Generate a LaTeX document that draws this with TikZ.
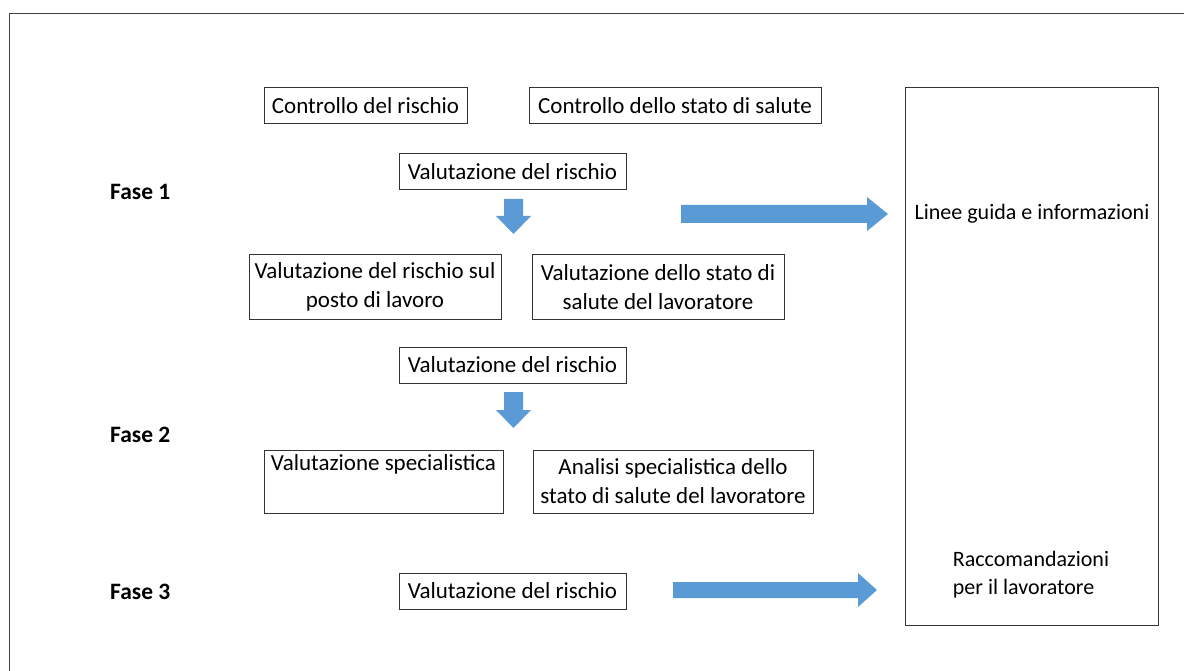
\documentclass[tikz,border=0pt]{standalone}
\usepackage{fontspec}
\setmainfont{Carlito}
\begin{document}
\begin{tikzpicture}[x=1pt,y=-1pt,
  box/.style={draw=black!80, line width=1pt, inner sep=0pt, align=center, font=\fontsize{23}{29}\selectfont},
  lbl/.style={inner sep=0pt, align=center, font=\fontsize{22}{28}\selectfont},
  fase/.style={inner sep=0pt, font=\bfseries\fontsize{23.5}{26}\selectfont},
  blockarrow/.style={fill=arrowblue, draw=none}]
\definecolor{arrowblue}{HTML}{5B9BD5}
\useasboundingbox (0,0) rectangle (1184,671);
\draw[black!75, line width=1.3pt] (9.5,671) -- (9.5,13.5) -- (1184,13.5);

% Row 1
\node[box, minimum width=203, minimum height=36] (cr) at (365.5,106) {Controllo del rischio};
\node[box, minimum width=292, minimum height=36] (cs) at (675,106) {Controllo dello stato di salute};
\node[box, minimum width=227, minimum height=36] (vr1) at (512.5,172) {Valutazione del rischio};

% Fase 1 second row
\node[box, minimum width=252, minimum height=64] (vpl) at (375,287) {Valutazione del rischio sul\\posto di lavoro};
\node[box, minimum width=252, minimum height=64] (vsl) at (658,287) {Valutazione dello stato di\\salute del lavoratore};

% Fase 2
\node[box, minimum width=227, minimum height=36] (vr2) at (512.5,365) {Valutazione del rischio};
\node[box, minimum width=239, minimum height=63] (vsp) at (383.5,481.5) {Valutazione specialistica\\\strut};
\node[box, minimum width=280, minimum height=63] (asl) at (673,481.5) {Analisi specialistica dello\\stato di salute del lavoratore};

% Fase 3
\node[box, minimum width=227, minimum height=36] (vr3) at (512.5,591) {Valutazione del rischio};

% Right big box
\node[box, minimum width=253, minimum height=537] (big) at (1031.5,356.5) {};
\node[lbl] (lg) at (1032,214) {Linee guida e informazioni};
\node[lbl, align=left] (rl) at (1031,575) {Raccomandazioni\\per il lavoratore};

% Fase labels
\node[fase, anchor=west] (f1) at (110,192) {Fase 1};
\node[fase, anchor=west] (f2) at (110,435) {Fase 2};
\node[fase, anchor=west] (f3) at (110,592) {Fase 3};

% Block arrows
\fill[blockarrow] (504,199) -- (523,199) -- (523,216) -- (531,216) -- (513.5,234) -- (496,216) -- (504,216) -- cycle;
\fill[blockarrow] (504,392) -- (523,392) -- (523,410) -- (531,410) -- (513.5,428) -- (496,410) -- (504,410) -- cycle;
\fill[blockarrow] (681,205) -- (867,205) -- (867,197) -- (888,214) -- (867,231) -- (867,223) -- (681,223) -- cycle;
\fill[blockarrow] (673,582) -- (858,582) -- (858,573) -- (877,590) -- (858,607) -- (858,598) -- (673,598) -- cycle;
\end{tikzpicture}
\end{document}
